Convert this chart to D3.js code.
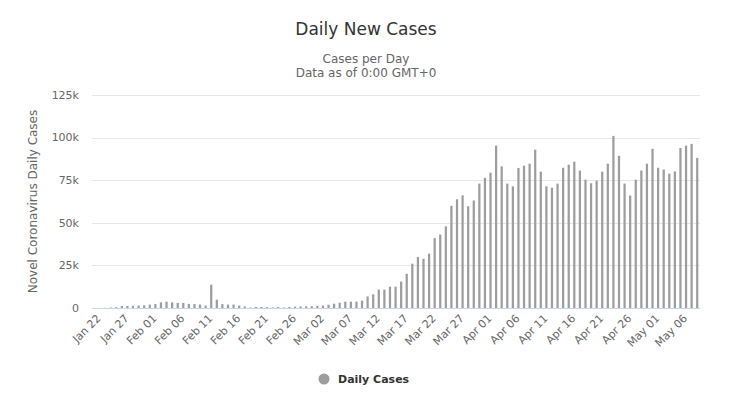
<!DOCTYPE html>
<html>
<head>
<meta charset="utf-8">
<script src="https://cdn.jsdelivr.net/npm/d3@7"></script>
<style>
  body { margin: 0; background: #fff; }
  text { font-family: "DejaVu Sans", "Noto Sans", sans-serif; }
</style>
</head>
<body>
<div id="chart"></div>
<script>
// daily new cases, Jan 22 -> May 08 (one value per day)
var startDay = new Date(2020, 0, 22);
var endDay = new Date(2020, 4, 9);
var dailyCases = [
  0, 100, 290, 490, 1200, 1200, 1300, 1400, 1600, 2000,
  2300, 3300, 3700, 3300, 3000, 3000, 2400, 2300, 2000, 1400,
  13700, 4900, 2300, 2000, 2000, 1400, 900, 300, 600, 600,
  500, 300, 600, 300, 600, 800, 900, 1000, 1100, 1300,
  1500, 1900, 2500, 3100, 3700, 3700, 3700, 4300, 6800, 8000,
  10800, 10800, 12500, 12500, 15500, 20100, 26000, 29900, 28900, 31900,
  41000, 43100, 47900, 60000, 63800, 66100, 59700, 63100, 73000, 76400,
  79400, 95300, 83100, 73000, 71400, 82200, 83500, 84700, 92900, 80000,
  71400, 70600, 73000, 82300, 84100, 85900, 80600, 75300, 73200, 74700,
  80000, 84700, 101000, 89300, 73000, 66000, 75300, 80700, 84700, 93400,
  82300, 81300, 78800, 80100, 93900, 95300, 96300, 88100
];
var tickLabels = ["Jan 22", "Jan 27", "Feb 01", "Feb 06", "Feb 11", "Feb 16", "Feb 21", "Feb 26",
  "Mar 02", "Mar 07", "Mar 12", "Mar 17", "Mar 22", "Mar 27", "Apr 01", "Apr 06", "Apr 11",
  "Apr 16", "Apr 21", "Apr 26", "May 01", "May 06"];
var yTicks = [0, 25000, 50000, 75000, 100000, 125000];

var width = 732, height = 398;
var plot = {left: 92, right: 700, top: 95, bottom: 308};

var fmtDay = d3.timeFormat("%b %d");
var days = d3.timeDay.range(startDay, endDay).map(fmtDay);

var svg = d3.select("#chart").append("svg")
    .attr("width", width)
    .attr("height", height);

var x = d3.scaleBand()
    .domain(days)
    .range([plot.left + 4.7, plot.right])
    .paddingInner(0.6)
    .paddingOuter(0.3);

var y = d3.scaleLinear()
    .domain([0, 125000])
    .range([plot.bottom, plot.top]);

// grid
svg.append("g").selectAll("line")
    .data(yTicks.slice(1))
  .enter().append("line")
    .attr("x1", plot.left).attr("x2", plot.right)
    .attr("y1", function(d) { return Math.round(y(d)) + 0.5; })
    .attr("y2", function(d) { return Math.round(y(d)) + 0.5; })
    .attr("stroke", "#e6e6e6");

// y labels
svg.append("g").selectAll("text")
    .data(yTicks)
  .enter().append("text")
    .attr("x", 79)
    .attr("y", function(d) { return y(d); })
    .attr("dy", "0.35em")
    .attr("text-anchor", "end")
    .attr("font-size", "11px")
    .attr("fill", "#666")
    .text(function(d) { return d3.format("~s")(d); });

svg.append("text")
    .attr("transform", "translate(37," + ((plot.top + plot.bottom) / 2) + ") rotate(-90)")
    .attr("text-anchor", "middle")
    .attr("font-size", "12px")
    .attr("fill", "#666")
    .text("Novel Coronavirus Daily Cases");

// bars
svg.append("g").selectAll("rect")
    .data(dailyCases)
  .enter().append("rect")
    .attr("x", function(d, i) { return x(days[i]); })
    .attr("width", x.bandwidth())
    .attr("y", function(d) { return y(d); })
    .attr("height", function(d) { return plot.bottom - y(d); })
    .attr("fill", "#9d9d9d");

// x axis line
svg.append("line")
    .attr("x1", plot.left).attr("x2", plot.right)
    .attr("y1", plot.bottom + 0.5).attr("y2", plot.bottom + 0.5)
    .attr("stroke", "#ccd6eb");

// x labels
svg.append("g").selectAll("text")
    .data(tickLabels)
  .enter().append("text")
    .attr("transform", function(d) {
      var cx = x(d) + x.bandwidth() / 2;
      return "translate(" + (cx + 2) + "," + (plot.bottom + 11) + ") rotate(-45)";
    })
    .attr("text-anchor", "end")
    .attr("font-size", "11px")
    .attr("fill", "#666")
    .text(function(d) { return d; });

// titles
svg.append("text")
    .attr("x", width / 2).attr("y", 35)
    .attr("text-anchor", "middle")
    .attr("font-size", "17px")
    .attr("fill", "#333")
    .text("Daily New Cases");

svg.append("text")
    .attr("x", width / 2).attr("y", 63)
    .attr("text-anchor", "middle")
    .attr("font-size", "12px")
    .attr("fill", "#666")
    .text("Cases per Day");

svg.append("text")
    .attr("x", width / 2).attr("y", 77)
    .attr("text-anchor", "middle")
    .attr("font-size", "12px")
    .attr("fill", "#666")
    .text("Data as of 0:00 GMT+0");

// legend
var legend = svg.append("g").attr("transform", "translate(324,379)");
legend.append("circle")
    .attr("r", 5.5)
    .attr("fill", "#9d9d9d");
legend.append("text")
    .attr("x", 14).attr("dy", "0.35em")
    .attr("font-size", "11px")
    .attr("font-weight", "bold")
    .attr("fill", "#333")
    .text("Daily Cases");
</script>
</body>
</html>
